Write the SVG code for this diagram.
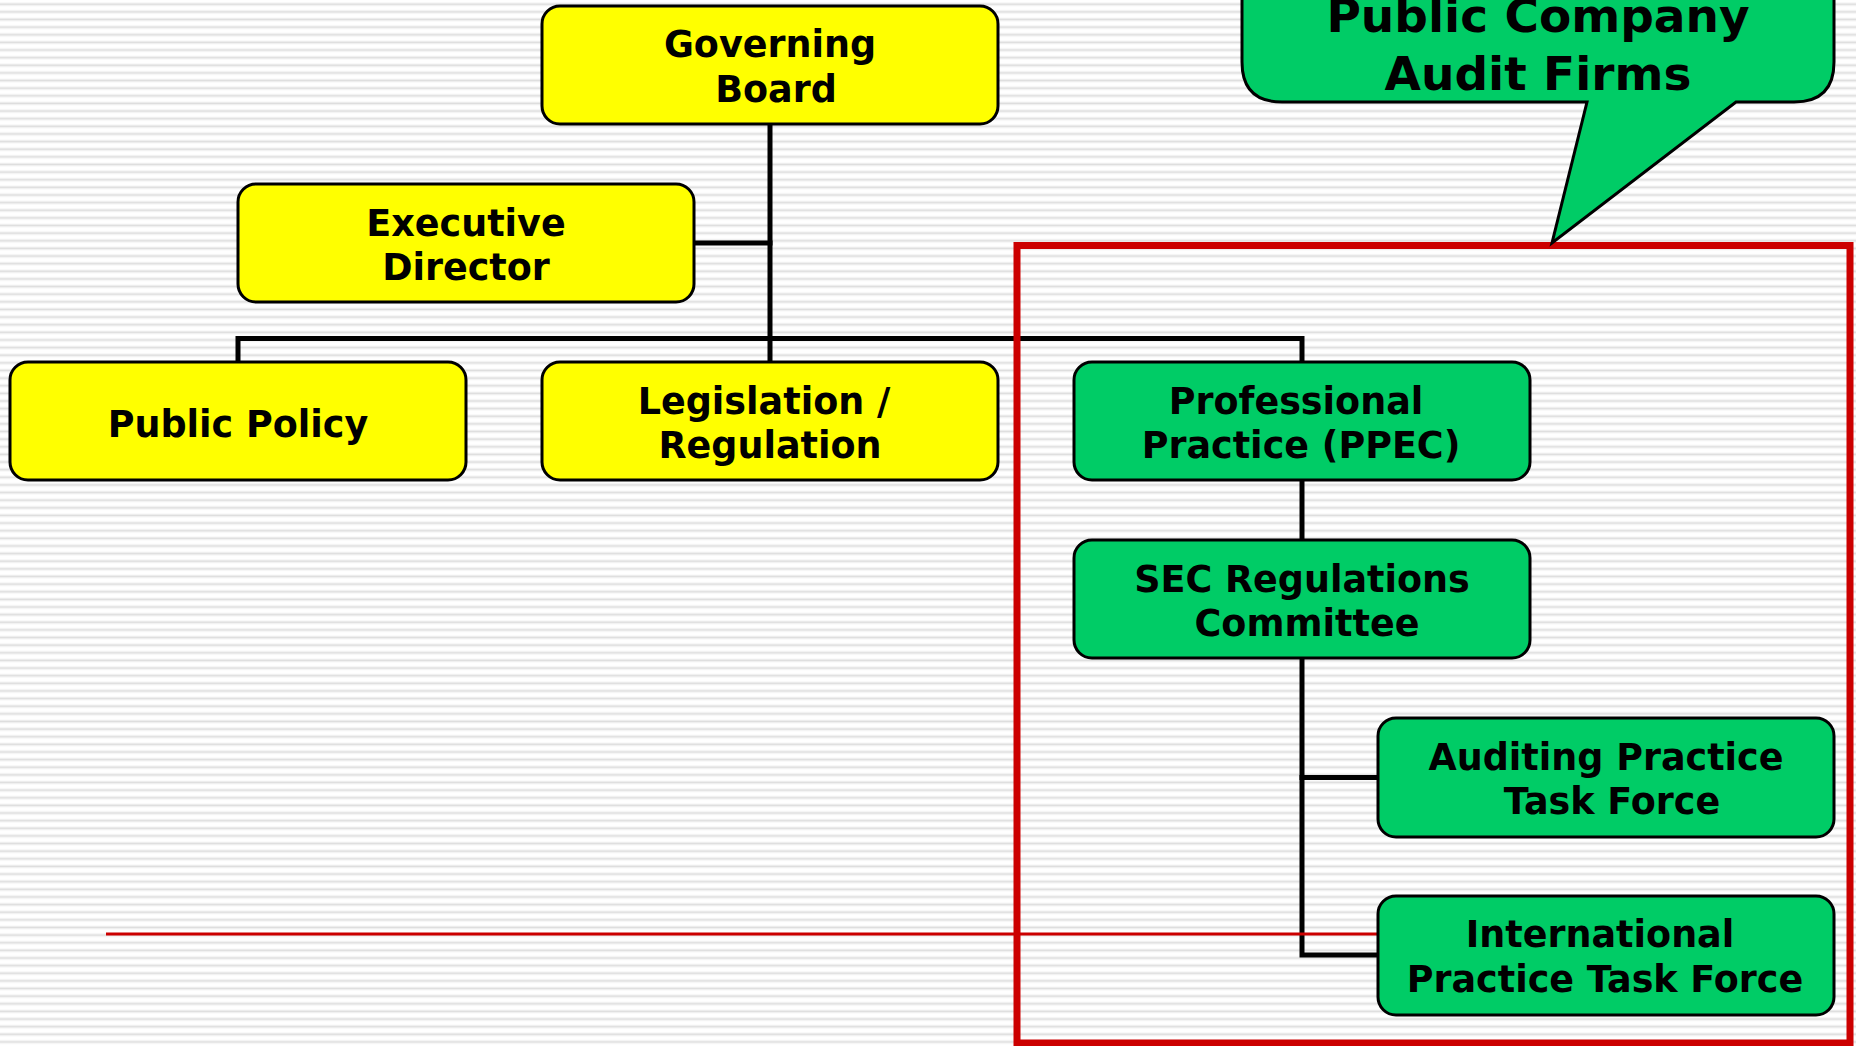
<svg xmlns="http://www.w3.org/2000/svg" width="1856" height="1046" viewBox="0 0 1856 1046">
  <style>
    .yel { fill: #FFFF00; stroke: #000; stroke-width: 3; }
    .grn { fill: #00CC66; stroke: #000; stroke-width: 3; }
    .lbl { font-family: "DejaVu Sans", "Verdana", sans-serif; font-weight: bold; font-size: 36.5px; fill: #000; text-anchor: middle; }
    .big { font-size: 47px; }
    .conn { fill: none; stroke: #000; stroke-width: 5; stroke-linecap: square; }
  </style>
  <defs>
    <pattern id="stripes" patternUnits="userSpaceOnUse" x="0" y="0" width="20" height="7.63">
      <rect x="0" y="0" width="20" height="7.63" fill="#ffffff"/>
      <rect x="0" y="2.6" width="20" height="1" fill="#eeeeee"/>
      <rect x="0" y="3.6" width="20" height="1.6" fill="#dedede"/>
      <rect x="0" y="5.2" width="20" height="0.8" fill="#efefef"/>
    </pattern>
  </defs>

  <rect x="0" y="0" width="1856" height="1046" fill="url(#stripes)"/>

  <g id="connectors">
    <line class="conn" x1="770" y1="124" x2="770" y2="362"/>
    <line class="conn" x1="694" y1="243" x2="770" y2="243"/>
    <polyline class="conn" points="238,362 238,338.5 1302,338.5 1302,362"/>
    <line class="conn" x1="1302" y1="481" x2="1302" y2="540"/>
    <polyline class="conn" points="1302,658 1302,955 1378,955"/>
    <line class="conn" x1="1302" y1="777.5" x2="1378" y2="777.5"/>
  </g>

  <line id="red-line" x1="106" y1="934" x2="1378" y2="934" stroke="#CC0000" stroke-width="3"/>
  <rect id="red-frame" x="1017" y="245.5" width="833" height="797.5" fill="none" stroke="#CC0000" stroke-width="7"/>

  <g id="governing-board">
    <rect class="yel" x="542" y="6" width="456" height="118" rx="18"/>
    <text class="lbl" x="770" y="57">Governing</text>
    <text class="lbl" x="776" y="102">Board</text>
  </g>
  <g id="executive-director">
    <rect class="yel" x="238" y="184" width="456" height="118" rx="18"/>
    <text class="lbl" x="466" y="236">Executive</text>
    <text class="lbl" x="466" y="280">Director</text>
  </g>
  <g id="public-policy">
    <rect class="yel" x="10" y="362" width="456" height="118" rx="18"/>
    <text class="lbl" x="238" y="436.5">Public Policy</text>
  </g>
  <g id="legislation-regulation">
    <rect class="yel" x="542" y="362" width="456" height="118" rx="18"/>
    <text class="lbl" x="764" y="413.5">Legislation /</text>
    <text class="lbl" x="770" y="458">Regulation</text>
  </g>
  <g id="professional-practice">
    <rect class="grn" x="1074" y="362" width="456" height="118" rx="18"/>
    <text class="lbl" x="1296" y="413.5">Professional</text>
    <text class="lbl" x="1301" y="458">Practice (PPEC)</text>
  </g>
  <g id="sec-regulations">
    <rect class="grn" x="1074" y="540" width="456" height="118" rx="18"/>
    <text class="lbl" x="1302" y="591.5">SEC Regulations</text>
    <text class="lbl" x="1307" y="636">Committee</text>
  </g>
  <g id="auditing-practice">
    <rect class="grn" x="1378" y="718" width="456" height="119" rx="18"/>
    <text class="lbl" x="1606" y="769.5">Auditing Practice</text>
    <text class="lbl" x="1612" y="814">Task Force</text>
  </g>
  <g id="international-practice">
    <rect class="grn" x="1378" y="896" width="456" height="119" rx="18"/>
    <text class="lbl" x="1600" y="947">International</text>
    <text class="lbl" x="1605" y="992">Practice Task Force</text>
  </g>

  <g id="callout">
    <path d="M1282,-60 L1794,-60 Q1834,-60 1834,-20 L1834,62 Q1834,102 1794,102 L1736,102 L1552,243 L1587,102 L1282,102 Q1242,102 1242,62 L1242,-20 Q1242,-60 1282,-60 Z" fill="#00CC66" stroke="#000" stroke-width="3" stroke-linejoin="miter"/>
    <text class="lbl big" x="1538" y="32">Public Company</text>
    <text class="lbl big" x="1538" y="89.5">Audit Firms</text>
  </g>
</svg>
